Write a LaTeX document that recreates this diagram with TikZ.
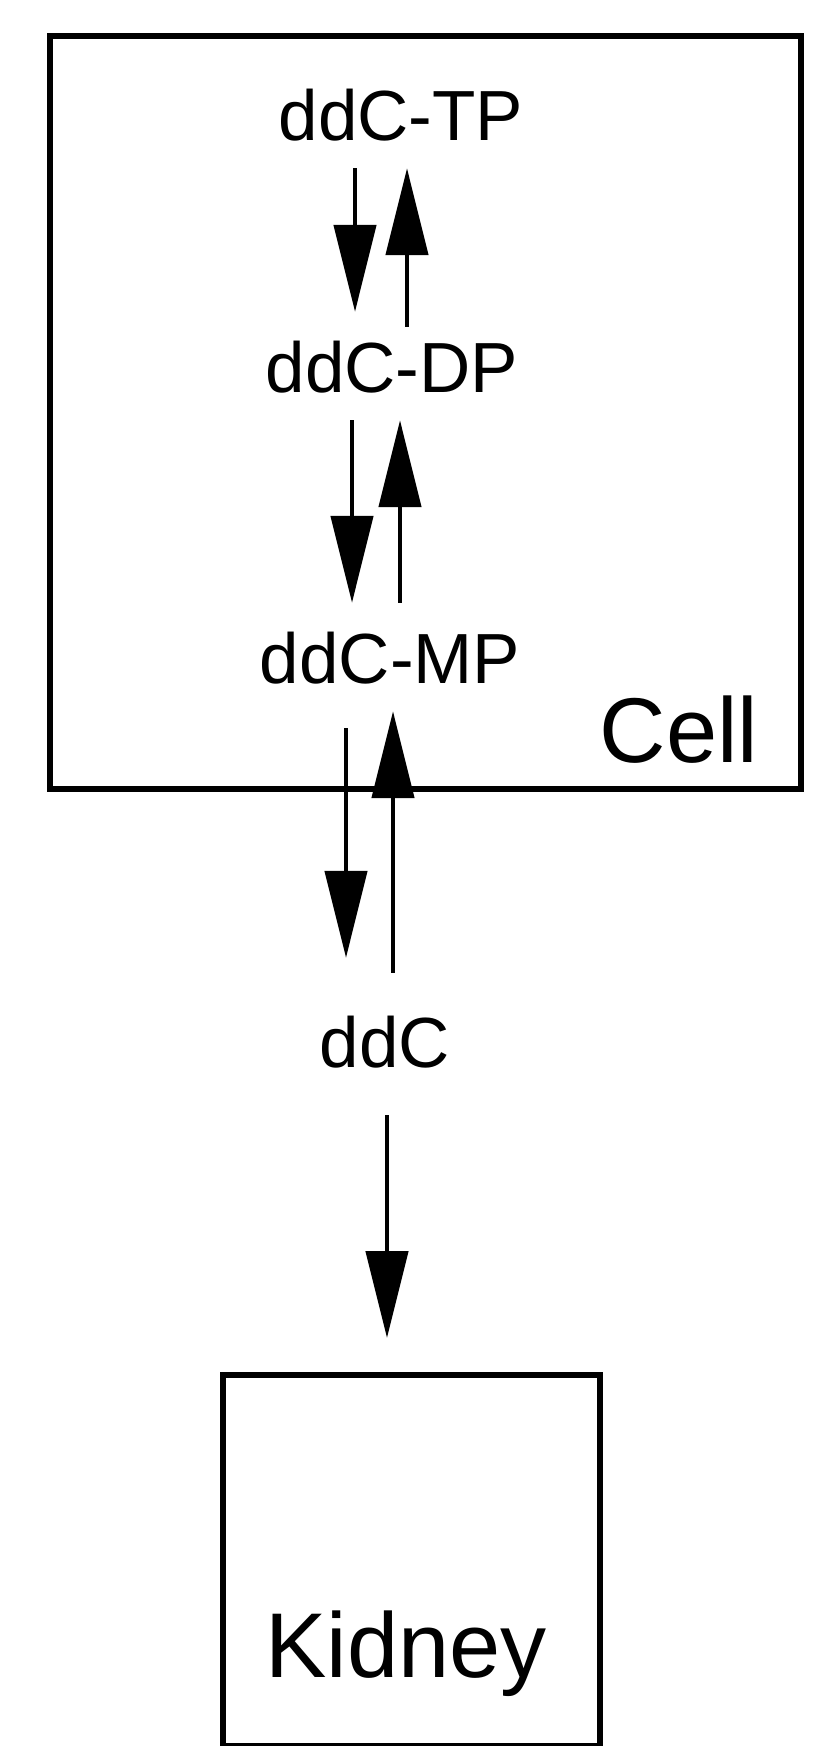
\documentclass[tikz,border=0pt]{standalone}
\usepackage{fontspec}
\setmainfont{Liberation Sans}
\usetikzlibrary{arrows.meta}

\begin{document}
\begin{tikzpicture}[
  x=1pt, y=-1pt,
  frame/.style={draw, line width=5.5pt, inner sep=0pt, anchor=north west},
  species/.style={font=\fontsize{71}{85}\selectfont, anchor=base, inner xsep=0pt,
                  inner ysep=28pt, text height=52pt, text depth=0pt},
  place/.style={font=\fontsize{92}{110}\selectfont, anchor=base, inner sep=0pt},
  arrow/.style={-{Triangle[length=87pt, width=42pt]}, line width=4.5pt}
]
\useasboundingbox (0,0) rectangle (827,1746);

% compartments
\node[frame, minimum width=751pt, minimum height=753pt] (cell) at (47,33) {};
\node[frame, minimum width=377pt, minimum height=371pt] (kidney) at (220,1372) {};
\node[place] (celllabel) at (679,762) {Cell};
\node[place] (kidneylabel) at (406,1677) {Kidney};

% phosphorylation states
\node[species] (tp) at (401,140) {ddC-TP};
\node[species] (dp) at (392,392) {ddC-DP};
\node[species] (mp) at (390,683) {ddC-MP};
\node[species] (ddc) at (385,1067) {ddC};

% arrow columns
\coordinate (d1) at (355,0); \coordinate (u1) at (407,0);
\coordinate (d2) at (352,0); \coordinate (u2) at (400,0);
\coordinate (d3) at (346,0); \coordinate (u3) at (393,0);
\coordinate (out) at (387,0);

\draw[arrow] (tp.south -| d1) -- (dp.north -| d1);
\draw[arrow, shorten <=-15pt] (dp.north -| u1) -- (tp.south -| u1);
\draw[arrow] (dp.south -| d2) -- (mp.north -| d2);
\draw[arrow] (mp.north -| u2) -- (dp.south -| u2);
\draw[arrow, shorten <=17pt, shorten >=29pt] (mp.south -| d3) -- (ddc.north -| d3);
\draw[arrow, shorten <=14pt] (ddc.north -| u3) -- (mp.south -| u3);
\draw[arrow, shorten <=20pt, shorten >=34pt] (ddc.south -| out) -- (kidney.north -| out);
\end{tikzpicture}
\end{document}
